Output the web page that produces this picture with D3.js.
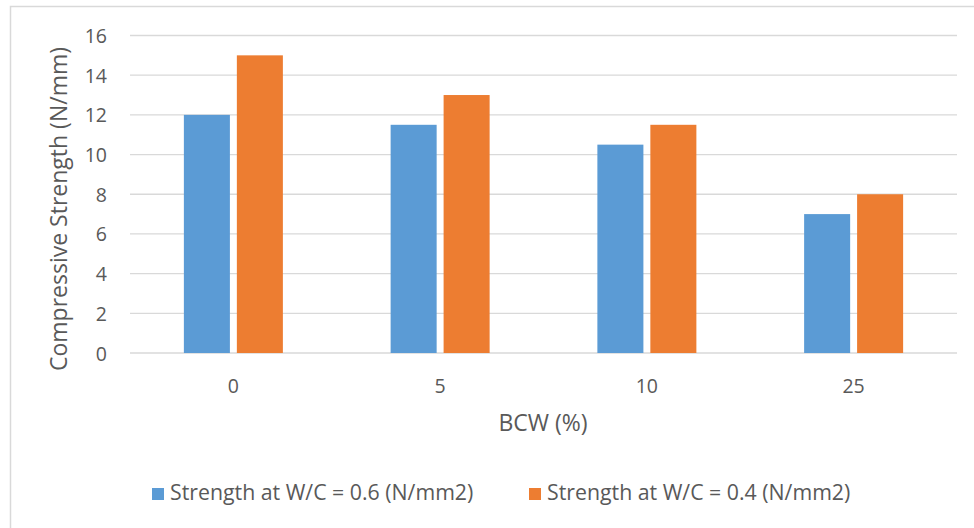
<!DOCTYPE html>
<html>
<head>
<meta charset="utf-8">
<script src="https://cdn.jsdelivr.net/npm/d3@7"></script>
<style>
  html, body { margin: 0; padding: 0; background: #fff; }
  svg { display: block; }
  text { font-family: "Open Sans", "Noto Sans", sans-serif; fill: #595959; }
</style>
</head>
<body>
<svg id="chart" width="974" height="528"></svg>
<script>
// Compressive strength by BCW replacement level, for two water/cement ratios
const categories = ["0", "5", "10", "25"];
const seriesNames = ["Strength at W/C = 0.6 (N/mm2)", "Strength at W/C = 0.4 (N/mm2)"];
const strengthWC06 = [12, 11.5, 10.5, 7];
const strengthWC04 = [15, 13, 11.5, 8];
const yTicks = [0, 2, 4, 6, 8, 10, 12, 14, 16];
const colors = ["#5B9BD5", "#ED7D31"];

const seriesValues = [strengthWC06, strengthWC04];
const FONT = '"Open Sans", "Noto Sans", sans-serif';

const svg = d3.select("#chart");
const plot = { left: 130, right: 957, top: 35.5, bottom: 353 };

// chart frame
svg.append("rect")
  .attr("x", 10.5).attr("y", 6.5)
  .attr("width", 980).attr("height", 540)
  .attr("fill", "none").attr("stroke", "#D9D9D9").attr("stroke-width", 1.5);

const x = d3.scaleBand().domain(categories).range([plot.left, plot.right]);
const y = d3.scaleLinear().domain([0, 16]).range([plot.bottom, plot.top]);

// gridlines
svg.append("g").selectAll("line").data(yTicks).join("line")
  .attr("x1", plot.left).attr("x2", plot.right)
  .attr("y1", d => y(d)).attr("y2", d => y(d))
  .attr("stroke", "#D9D9D9").attr("stroke-width", 1.3);

// y axis labels
const yAxis = d3.axisLeft(y).tickValues(yTicks).tickSize(0).tickPadding(0);
const gy = svg.append("g").attr("transform", `translate(107,0)`).call(yAxis);
gy.select(".domain").remove();
gy.selectAll("text").attr("font-size", 19.5).attr("fill", "#595959")
  .style("font-family", FONT).attr("dy", "0.36em");

// x axis labels
const xAxis = d3.axisBottom(x).tickSize(0).tickPadding(0);
const gx = svg.append("g").attr("transform", `translate(0,${plot.bottom})`).call(xAxis);
gx.select(".domain").remove();
gx.selectAll("text").attr("font-size", 19.5).attr("fill", "#595959")
  .style("font-family", FONT).attr("y", 40).attr("dy", 0);

// bars
const barW = 43, barGap = 13;
const inner = d3.scaleBand().domain([0, 1]).range([0, 2 * barW + barGap]).paddingInner(barGap / (2 * barW + barGap));
const groups = svg.append("g").selectAll("g").data(categories).join("g")
  .attr("transform", d => `translate(${x(d) + x.bandwidth() / 2 - (2 * barW + barGap) / 2},0)`);
groups.selectAll("rect").data((d, i) => seriesValues.map((s, k) => ({ k, v: s[i] }))).join("rect")
  .attr("x", d => inner(d.k))
  .attr("width", inner.bandwidth())
  .attr("y", d => y(d.v))
  .attr("height", d => y(0) - y(d.v))
  .attr("fill", d => colors[d.k]);

// axis titles
svg.append("text")
  .attr("transform", `translate(67,209) rotate(-90)`)
  .attr("text-anchor", "middle").attr("font-size", 23)
  .text("Compressive Strength (N/mm)");
svg.append("text")
  .attr("x", 543).attr("y", 431)
  .attr("text-anchor", "middle").attr("font-size", 23)
  .text("BCW (%)");

// legend
const legendX = [152, 529];
const leg = svg.append("g").selectAll("g").data(seriesNames).join("g")
  .attr("transform", (d, i) => `translate(${legendX[i]},488)`);
leg.append("rect").attr("width", 12).attr("height", 12).attr("fill", (d, i) => colors[i]);
leg.append("text").attr("x", 18).attr("y", 12).attr("font-size", 21.3).text(d => d);
</script>
</body>
</html>
